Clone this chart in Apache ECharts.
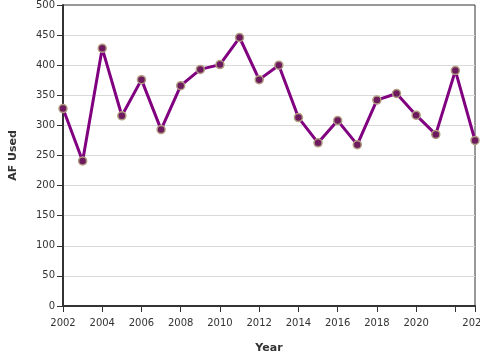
<!DOCTYPE html>
<html>
<head>
<meta charset="utf-8">
<script src="https://cdn.jsdelivr.net/npm/echarts@6/dist/echarts.min.js"></script>
<style>html,body{margin:0;padding:0;background:#fff}#c{width:480px;height:360px}</style>
</head>
<body>
<div id="c"></div>
<script>
const years = [2002,2003,2004,2005,2006,2007,2008,2009,2010,2011,2012,2013,2014,2015,2016,2017,2018,2019,2020,2021,2022,2023];
const afUsed = [328,241,428,316,376,293,366,393,401,446,376,400,313,271,308,268,342,353,317,285,391,275];
const xAxisTitle = 'Year';
const yAxisTitle = 'AF Used';

const font = 'DejaVu Sans';
const chart = echarts.init(document.getElementById('c'), null, {renderer: 'canvas'});
const gridColors = ['rgba(0,0,0,0)','#d9d9d9','#d9d9d9','#d9d9d9','#d9d9d9','#d9d9d9','#d9d9d9','#d9d9d9','#d9d9d9','#d9d9d9','rgba(0,0,0,0)'];
chart.setOption({
  animation: false,
  backgroundColor: '#fff',
  grid: {left: 63, right: 5, top: 5, bottom: 54, containLabel: false, outerBoundsMode: 'none',
    show: true, borderColor: '#333', borderWidth: 1, backgroundColor: 'transparent'},
  xAxis: {
    type: 'value', min: 2002, max: 2023, interval: 2,
    name: xAxisTitle, nameLocation: 'middle', nameGap: 37,
    nameTextStyle: {fontFamily: font, fontSize: 11, fontWeight: 'bold', color: '#333'},
    axisLine: {show: true, lineStyle: {color: '#333', width: 2}},
    axisTick: {show: true, length: 6, lineStyle: {color: '#333', width: 1}},
    axisLabel: {fontFamily: font, fontSize: 10, color: '#333', margin: 12,
      formatter: v => v === 2022 ? '' : String(v)},
    splitLine: {show: false}
  },
  yAxis: {
    type: 'value', min: 0, max: 500, interval: 50,
    name: yAxisTitle, nameLocation: 'middle', nameGap: 44, nameRotate: 90,
    nameTextStyle: {fontFamily: font, fontSize: 11, fontWeight: 'bold', color: '#333'},
    axisLine: {show: true, lineStyle: {color: '#333', width: 2}},
    axisTick: {show: true, length: 6, lineStyle: {color: '#333', width: 1}},
    axisLabel: {fontFamily: font, fontSize: 10, color: '#333', margin: 8},
    splitLine: {show: true, lineStyle: {color: gridColors, width: 1}}
  },
  series: [{
    type: 'line',
    data: years.map((y, i) => [y, afUsed[i]]),
    lineStyle: {color: '#800080', width: 3},
    symbol: 'circle', symbolSize: 8,
    itemStyle: {color: '#6e1a5e', borderColor: '#b09c80', borderWidth: 1.5},
    z: 5
  }]
});
</script>
</body>
</html>
